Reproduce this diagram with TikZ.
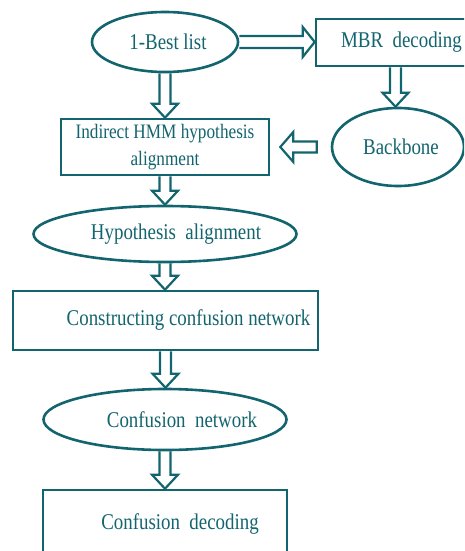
\documentclass[tikz,border=0pt]{standalone}
\usepackage{fontspec}
\usetikzlibrary{calc,shapes.geometric}
\newfontfamily\cfont[FakeStretch=0.84]{Liberation Serif}
\definecolor{teal1}{RGB}{18,100,110}
\newcommand{\fatdown}[2]{\draw[fatline] let \p1=(#1), \p2=(#2) in
  (\x1-5.5pt,\y1) -- (\x1-5.5pt,\y2+14pt) -- (\x1-13pt,\y2+14pt) -- (\x1,\y2)
  -- (\x1+13pt,\y2+14pt) -- (\x1+5.5pt,\y2+14pt) -- (\x1+5.5pt,\y1);}
\begin{document}
\begin{tikzpicture}[x=1pt,y=1pt,
  every node/.style={text=teal1,font=\cfont\fontsize{22.5}{26}\selectfont},
  boxnode/.style={draw=teal1,line width=2.6pt,rectangle,inner sep=0pt},
  ellnode/.style={draw=teal1,line width=2.6pt,ellipse,inner sep=0pt},
  fatline/.style={draw=teal1,line width=2.2pt,line join=miter}]
\useasboundingbox (0,0) rectangle (464,-551);
\clip (0,0) rectangle (464,-551);
\node[ellnode,minimum width=146pt,minimum height=60pt] (best) at (165,-42)
  {\makebox[0pt]{\hspace*{6pt}1-Best list}};
\node[boxnode,minimum width=159pt,minimum height=47pt] (mbr) at (395.5,-42.5)
  {\makebox[0pt]{\hspace*{12pt}MBR~ decoding}};
\node[ellnode,minimum width=132pt,minimum height=78pt] (bb) at (398,-147)
  {\makebox[0pt]{\hspace*{6pt}Backbone}};
\node[boxnode,minimum width=208pt,minimum height=56pt,align=center,
  font=\cfont\fontsize{20.5}{27}\selectfont] (hmm) at (165,-147)
  {Indirect HMM hypothesis\\alignment};
\node[ellnode,minimum width=263pt,minimum height=56pt] (hyp) at (165,-234)
  {\makebox[0pt]{\hspace*{22pt}Hypothesis~ alignment}};
\node[boxnode,minimum width=305pt,minimum height=59pt] (cons) at (165.5,-320.5)
  {\makebox[0pt]{\hspace*{46pt}Constructing confusion network}};
\node[ellnode,minimum width=243pt,minimum height=61pt] (cn) at (165,-419.5)
  {\makebox[0pt]{\hspace*{34pt}Confusion~ network}};
\node[boxnode,minimum width=244pt,minimum height=80pt] (cd) at (165,-530)
  {\makebox[0pt]{\hspace*{30pt}\raisebox{17pt}{Confusion~ decoding}}};
% connectors
\fatdown{best.south}{hmm.north}
\fatdown{hmm.south}{hyp.north}
\fatdown{hyp.south}{cons.north}
\fatdown{cons.south}{cn.north}
\fatdown{cn.south}{cd.north}
\fatdown{mbr.south}{bb.north}
\draw[fatline] let \p1=(best.east), \p2=(mbr.west) in
  (\x1,\y1+6pt) -- (\x2-12pt,\y1+6pt) -- (\x2-12pt,\y1+15pt) -- (\x2,\y1)
  -- (\x2-12pt,\y1-15pt) -- (\x2-12pt,\y1-6pt) -- (\x1,\y1-6pt);
\draw[fatline] let \p1=([xshift=-14pt]bb.west), \p2=([xshift=10pt]hmm.east) in
  (\x1,\y1+5.5pt) -- (\x2+13pt,\y1+5.5pt) -- (\x2+13pt,\y1+15pt) -- (\x2,\y1)
  -- (\x2+13pt,\y1-15pt) -- (\x2+13pt,\y1-5.5pt) -- (\x1,\y1-5.5pt) -- cycle;
\end{tikzpicture}
\end{document}
